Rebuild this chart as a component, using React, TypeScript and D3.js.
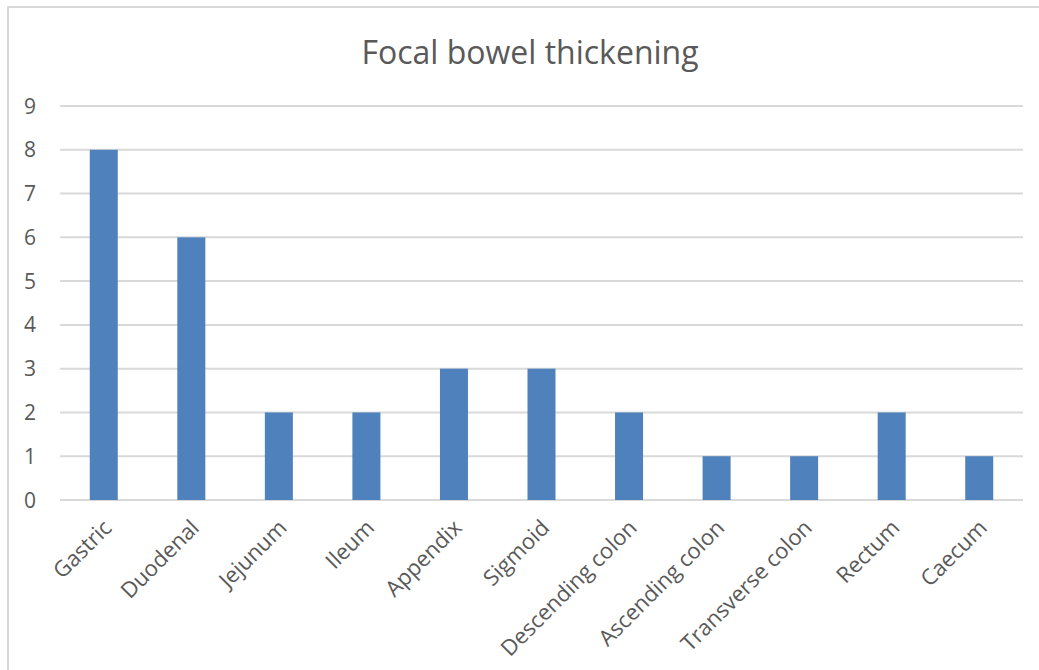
import React from "react";
import * as d3 from "d3";

const categories = [
  "Gastric",
  "Duodenal",
  "Jejunum",
  "Ileum",
  "Appendix",
  "Sigmoid",
  "Descending colon",
  "Ascending colon",
  "Transverse colon",
  "Rectum",
  "Caecum",
];
const counts = [8, 6, 2, 2, 3, 3, 2, 1, 1, 2, 1];
const yTicks = [0, 1, 2, 3, 4, 5, 6, 7, 8, 9];
const title = "Focal bowel thickening";

const W = 1039;
const H = 670;
const FONT = "'Open Sans', 'Liberation Sans', sans-serif";
const TEXT = "#595959";
const GRID = "#D9D9D9";
const BAR = "#4F81BD";

export default function App() {
  const x = d3
    .scaleBand<string>()
    .domain(categories)
    .range([60, 1023])
    .paddingInner(0.68)
    .paddingOuter(0.34);
  const y = d3.scaleLinear().domain([0, 9]).range([500, 106]);

  return (
    <svg
      width={W}
      height={H}
      style={{ position: "absolute", left: 0, top: 0, background: "#fff" }}
      fontFamily={FONT}
    >
      <rect x={8} y={7} width={W + 20} height={H + 20} fill="#fff" stroke={GRID} strokeWidth={2} />
      <text x={530} y={64} textAnchor="middle" fontSize={32} fill={TEXT}>
        {title}
      </text>
      {yTicks.map((t) => (
        <g key={t}>
          <line x1={60} x2={1023} y1={y(t)} y2={y(t)} stroke={GRID} strokeWidth={2} />
          <text x={36} y={y(t)} dy="0.36em" textAnchor="end" fontSize={21} fill={TEXT}>
            {t}
          </text>
        </g>
      ))}
      {categories.map((c, i) => (
        <rect
          key={c}
          x={x(c)!}
          y={y(counts[i])}
          width={x.bandwidth()}
          height={y(0) - y(counts[i])}
          fill={BAR}
        />
      ))}
      {categories.map((c) => {
        const cx = x(c)! + x.bandwidth() / 2;
        return (
          <text
            key={c}
            transform={`translate(${cx - 2},${518}) rotate(-45)`}
            textAnchor="end"
            dy="0.72em"
            fontSize={22}
            fill={TEXT}
          >
            {c}
          </text>
        );
      })}
    </svg>
  );
}
